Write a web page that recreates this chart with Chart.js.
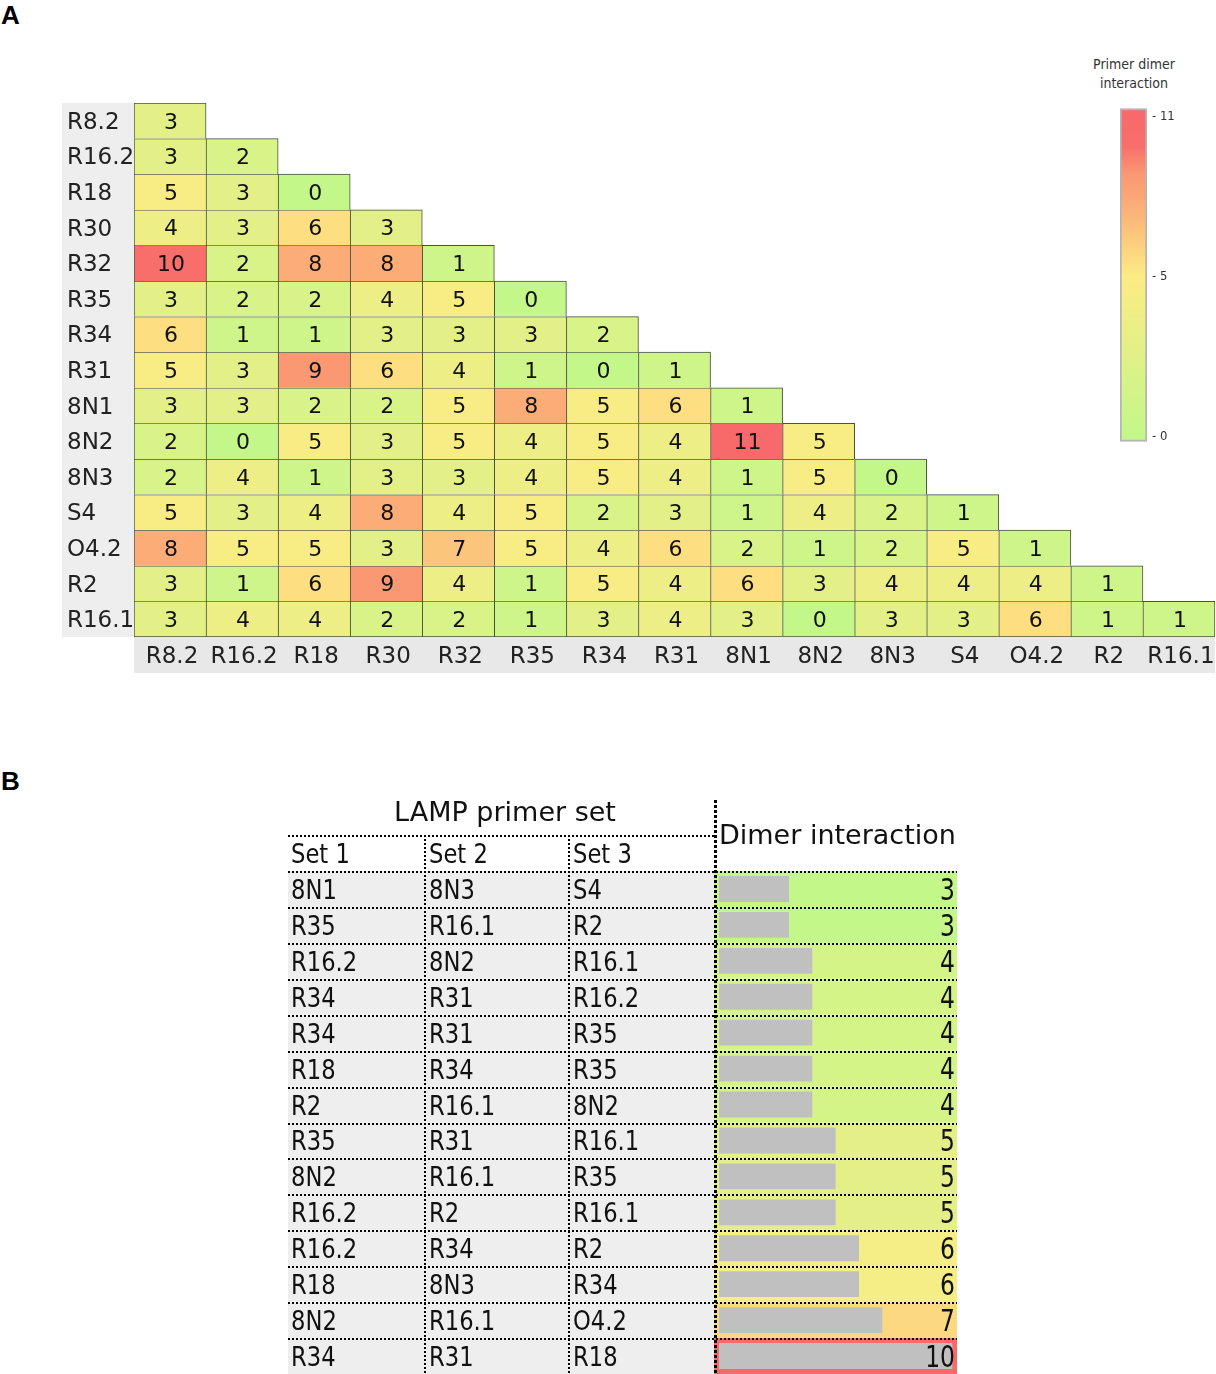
<!DOCTYPE html>
<html>
<head>
<meta charset="utf-8">
<script src="https://cdn.jsdelivr.net/npm/chart.js@4.4.1/dist/chart.umd.min.js"></script>
<style>
html,body{margin:0;padding:0;width:1216px;height:1374px;overflow:hidden;background:#fff;}
canvas{position:absolute;}
.panel{position:absolute;font-family:"Liberation Sans",Arial,sans-serif;font-weight:bold;font-size:26px;line-height:26px;color:#000;}
#cbTitle{position:absolute;left:1074px;top:55px;width:120px;text-align:center;font-family:"DejaVu Sans Condensed","DejaVu Sans",sans-serif;font-size:14px;line-height:19px;color:#333;}
</style>
</head>
<body>
<div class="panel" style="left:1px;top:2px">A</div>
<div class="panel" style="left:1px;top:768px">B</div>
<div id="cbTitle">Primer dimer<br>interaction</div>
<canvas id="heat" width="1216" height="700" style="left:0;top:0;width:1216px;height:700px"></canvas>
<canvas id="cbar" width="116" height="360" style="left:1100px;top:95px;width:116px;height:360px"></canvas>
<canvas id="table" width="690" height="584" style="left:280px;top:790px;width:690px;height:584px"></canvas>
<script>
// ---------- Panel A data ----------
const primerLabels = ['R8.2','R16.2','R18','R30','R32','R35','R34','R31','8N1','8N2','8N3','S4','O4.2','R2','R16.1'];
const rowR8_2  = [3];
const rowR16_2 = [3,2];
const rowR18   = [5,3,0];
const rowR30   = [4,3,6,3];
const rowR32   = [10,2,8,8,1];
const rowR35   = [3,2,2,4,5,0];
const rowR34   = [6,1,1,3,3,3,2];
const rowR31   = [5,3,9,6,4,1,0,1];
const row8N1   = [3,3,2,2,5,8,5,6,1];
const row8N2   = [2,0,5,3,5,4,5,4,11,5];
const row8N3   = [2,4,1,3,3,4,5,4,1,5,0];
const rowS4    = [5,3,4,8,4,5,2,3,1,4,2,1];
const rowO4_2  = [8,5,5,3,7,5,4,6,2,1,2,5,1];
const rowR2    = [3,1,6,9,4,1,5,4,6,3,4,4,4,1];
const rowR16_1 = [3,4,4,2,2,1,3,4,3,0,3,3,6,1,1];
const heatRows = [rowR8_2,rowR16_2,rowR18,rowR30,rowR32,rowR35,rowR34,rowR31,row8N1,row8N2,row8N3,rowS4,rowO4_2,rowR2,rowR16_1];
const colorbarTicks = [0,5.5,11];
const colorbarRange = [0,11];

// ---------- Panel B data ----------
const set1 = ['8N1','R35','R16.2','R34','R34','R18','R2','R35','8N2','R16.2','R16.2','R18','8N2','R34'];
const set2 = ['8N3','R16.1','8N2','R31','R31','R34','R16.1','R31','R16.1','R2','R34','8N3','R16.1','R31'];
const set3 = ['S4','R2','R16.1','R16.2','R35','R35','8N2','R16.1','R35','R16.1','R2','R34','O4.2','R18'];
const dimerValues = [3,3,4,4,4,4,4,5,5,5,6,6,7,10];
const tableHeaders = ['Set 1','Set 2','Set 3'];

// ---------- colour ramps ----------
const heatStops = [[0,[195,247,138]],[5.5,[253,235,132]],[8,[251,172,119]],[9,[250,152,115]],[10,[248,110,107]],[11,[248,105,107]]];
const tableStops = [[3,[195,247,138]],[6.5,[253,235,132]],[10,[248,105,107]]];
function rgbStr(c){return 'rgb('+c.map(Math.round).join(',')+')';}
function ramp(stops, v){
  if (v <= stops[0][0]) return rgbStr(stops[0][1]);
  for (let k=1;k<stops.length;k++){
    const [v0,c0]=stops[k-1], [v1,c1]=stops[k];
    if (v <= v1){ const t=(v-v0)/(v1-v0); return rgbStr(c0.map((c,m)=>c+(c1[m]-c)*t)); }
  }
  return rgbStr(stops[stops.length-1][1]);
}

const FONT = '"DejaVu Sans", Verdana, sans-serif';
const N = primerLabels.length;

// ---------- Panel A heatmap ----------
const heatDatasets = heatRows.map((vals, i) => ({
  label: primerLabels[i],
  values: vals,
  data: primerLabels.map((c, j) => j < vals.length ? [i - 0.5, i + 0.5] : null),
  backgroundColor: primerLabels.map((c, j) => j < vals.length ? ramp(heatStops, vals[j]) : 'rgba(0,0,0,0)'),
  borderColor: 'rgba(40,50,35,0.85)',
  borderWidth: ctx => ({left:1, top:1, right: ctx.dataIndex === i ? 1 : 0, bottom: i === N-1 ? 1 : 0}),
  borderSkipped: false,
  grouped: false,
  barPercentage: 1,
  categoryPercentage: 1
}));

const heatDecor = {
  id: 'heatDecor',
  beforeDraw(chart){
    const {ctx, chartArea:a, scales:{x, y}} = chart;
    ctx.save();
    ctx.fillStyle = '#eeeeee';
    ctx.fillRect(y.left - 5, a.top, y.right - y.left + 5, a.bottom - a.top);
    ctx.fillStyle = '#e8e8e8';
    ctx.fillRect(a.left, a.bottom, a.right - a.left, x.bottom - a.bottom);
    ctx.restore();
  },
  afterDatasetsDraw(chart){
    const {ctx} = chart;
    ctx.save();
    ctx.font = '22px ' + FONT;
    ctx.fillStyle = '#111';
    ctx.textAlign = 'center';
    ctx.textBaseline = 'middle';
    chart.data.datasets.forEach((ds, di) => {
      const meta = chart.getDatasetMeta(di);
      meta.data.forEach((el, j) => {
        if (ds.data[j] == null) return;
        ctx.fillText(String(ds.values[j]), el.x + 1, (el.y + el.base) / 2 + 2);
      });
    });
    ctx.restore();
  }
};

new Chart(document.getElementById('heat'), {
  type: 'bar',
  data: { labels: primerLabels, datasets: heatDatasets },
  options: {
    responsive: false, animation: false, devicePixelRatio: 1,
    layout: { padding: { left: 67, top: 103, right: 1, bottom: 27 } },
    plugins: { legend: { display: false }, tooltip: { enabled: false } },
    scales: {
      x: {
        type: 'category', offset: true,
        grid: { display: false, drawTicks: false }, border: { display: false },
        ticks: { font: { family: FONT, size: 23 }, color: '#222', padding: 6, autoSkip: false, maxRotation: 0, labelOffset: 2 },
        afterFit: s => { s.height = 36; s.paddingLeft = 0; s.paddingRight = 0; }
      },
      y: {
        type: 'linear', min: -0.5, max: N - 0.5, reverse: true,
        afterBuildTicks: s => { s.ticks = primerLabels.map((_, i) => ({ value: i })); },
        grid: { display: false, drawTicks: false }, border: { display: false },
        ticks: { callback: v => primerLabels[v], crossAlign: 'far', font: { family: FONT, size: 23 }, color: '#222', padding: 0, autoSkip: false, labelOffset: 2 },
        afterFit: s => { s.width = 67; s.paddingTop = 0; s.paddingBottom = 0; }
      }
    }
  },
  plugins: [heatDecor]
});

// ---------- colour bar ----------
new Chart(document.getElementById('cbar'), {
  type: 'bar',
  data: { labels: [''], datasets: [{
    data: [[colorbarRange[0] - 0.17, colorbarRange[1] + 0.27]],
    backgroundColor: ctx => {
      const ch = ctx.chart; if (!ch.chartArea) return '#ccc';
      const y = ch.scales.y;
      const g = ch.ctx.createLinearGradient(0, y.getPixelForValue(colorbarRange[0]), 0, y.getPixelForValue(colorbarRange[1]));
      heatStops.forEach(([v, c]) => g.addColorStop((v - colorbarRange[0]) / (colorbarRange[1] - colorbarRange[0]), rgbStr(c)));
      return g;
    },
    borderColor: '#b4b4b4', borderWidth: 2, borderSkipped: false,
    barPercentage: 1, categoryPercentage: 1
  }]},
  options: {
    responsive: false, animation: false, devicePixelRatio: 1,
    layout: { padding: { left: 20, top: 9, bottom: 11, right: 0 } },
    plugins: { legend: { display: false }, tooltip: { enabled: false } },
    scales: {
      x: { display: false },
      y: {
        position: 'right', min: -0.2, max: 11.3,
        afterBuildTicks: s => { s.ticks = colorbarTicks.map(v => ({ value: v })); },
        grid: { display: false, drawTicks: false }, border: { display: false },
        ticks: { callback: v => '- ' + Math.floor(v), font: { family: '"DejaVu Sans Condensed","DejaVu Sans",sans-serif', size: 13 }, color: '#333', padding: 5 },
        afterFit: s => { s.width = 69; }
      }
    }
  }
});

// ---------- Panel B table ----------
function squeezedText(ctx, text, x, y, sx, align){
  ctx.save();
  ctx.translate(x, y);
  ctx.scale(sx, 1);
  ctx.textAlign = align || 'left';
  ctx.fillText(text, 0, 0);
  ctx.restore();
}
const tableDecor = {
  id: 'tableDecor',
  beforeDatasetsDraw(chart){
    const {ctx, chartArea:a, scales:{y}} = chart;
    const cols = [8, 144, 288, a.left];
    const rowH = y.getPixelForValue(1) - y.getPixelForValue(0);
    ctx.save();
    dimerValues.forEach((v, i) => {
      const top = y.getPixelForValue(i) - rowH / 2;
      ctx.fillStyle = '#eeeeee';
      ctx.fillRect(cols[0], top, a.left - cols[0], rowH);
      ctx.fillStyle = ramp(tableStops, v);
      ctx.fillRect(a.left, top, a.right - a.left, rowH);
    });
    ctx.restore();
  },
  afterDatasetsDraw(chart){
    const {ctx, chartArea:a, scales:{y}} = chart;
    const cols = [8, 144, 288, a.left];
    const rowH = y.getPixelForValue(1) - y.getPixelForValue(0);
    ctx.save();
    ctx.fillStyle = '#111';
    ctx.textBaseline = 'middle';
    // header
    ctx.font = '27px ' + FONT;
    ctx.textAlign = 'center';
    ctx.fillText('LAMP primer set', (cols[0] + cols[3]) / 2 + 4, a.top - 2 * rowH + 15);
    ctx.textAlign = 'left';
    ctx.fillText('Dimer interaction', a.left + 5, a.top - rowH + 2);
    tableHeaders.forEach((h, k) => squeezedText(ctx, h, cols[k] + (k === 0 ? 3 : 5), a.top - rowH / 2 + 3, 0.84));
    // body
    const sets = [set1, set2, set3];
    dimerValues.forEach((v, i) => {
      const cy = y.getPixelForValue(i) + 3;
      sets.forEach((s, k) => squeezedText(ctx, s[i], cols[k] + (k === 0 ? 3 : 5), cy, 0.84));
    });
    ctx.font = '30px ' + FONT;
    dimerValues.forEach((v, i) => squeezedText(ctx, String(v), a.right - 2, y.getPixelForValue(i) + 3, 0.78, 'right'));
    // dotted lines
    ctx.strokeStyle = '#000';
    ctx.lineWidth = 2;
    ctx.setLineDash([2, 2]);
    ctx.beginPath();
    ctx.moveTo(cols[0], a.top - rowH + 1); ctx.lineTo(a.left, a.top - rowH + 1);
    for (let i = 0; i < dimerValues.length; i++) {
      const yy = Math.round(y.getPixelForValue(i) - rowH / 2) + 1;
      ctx.moveTo(cols[0], yy); ctx.lineTo(a.right, yy);
    }
    [cols[1], cols[2]].forEach(cx => { ctx.moveTo(cx + 1, a.top - rowH); ctx.lineTo(cx + 1, a.bottom); });
    ctx.stroke();
    ctx.lineWidth = 3;
    ctx.setLineDash([3, 2]);
    ctx.beginPath();
    ctx.moveTo(a.left + 1.5, 10); ctx.lineTo(a.left + 1.5, a.bottom);
    ctx.stroke();
    ctx.restore();
  }
};

new Chart(document.getElementById('table'), {
  type: 'bar',
  data: {
    labels: dimerValues.map((_, i) => String(i + 1)),
    datasets: [{ data: dimerValues, backgroundColor: '#c0c0c0', barPercentage: 0.72, categoryPercentage: 1, borderWidth: 0 }]
  },
  options: {
    indexAxis: 'y',
    responsive: false, animation: false, devicePixelRatio: 1,
    layout: { padding: { left: 434, right: 13, top: 81, bottom: 0 } },
    plugins: { legend: { display: false }, tooltip: { enabled: false } },
    scales: {
      x: { type: 'linear', min: -0.215, max: 10.2, display: false },
      y: { type: 'category', display: false }
    }
  },
  plugins: [tableDecor]
});
</script>
</body>
</html>
